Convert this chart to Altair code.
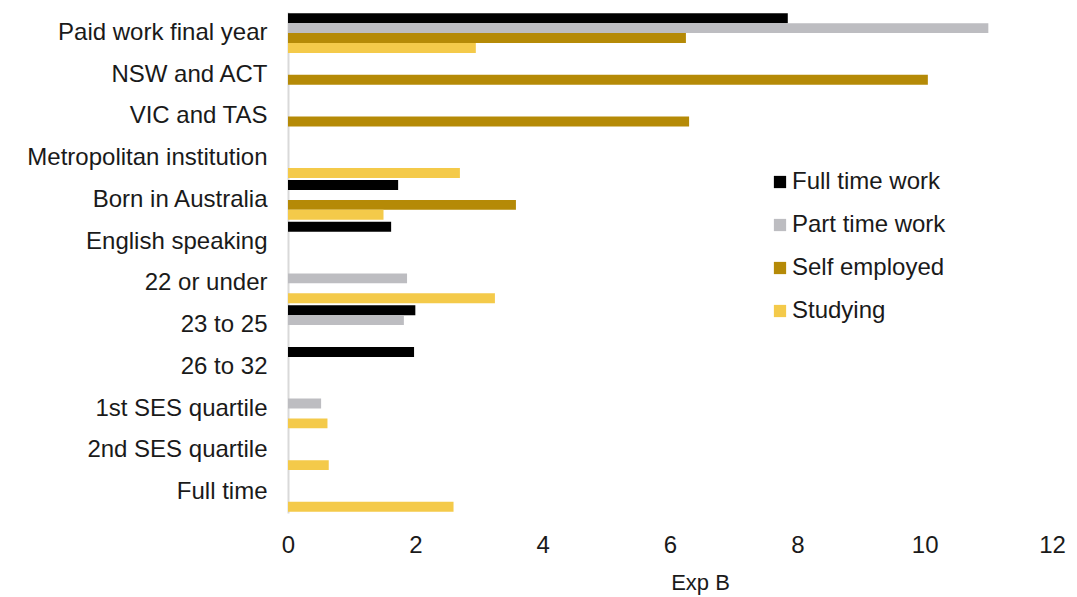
import altair as alt
import pandas as pd

categories = [
    "Paid work final year", "NSW and ACT", "VIC and TAS", "Metropolitan institution",
    "Born in Australia", "English speaking", "22 or under", "23 to 25", "26 to 32",
    "1st SES quartile", "2nd SES quartile", "Full time",
]
series = ["Full time work", "Part time work", "Self employed", "Studying"]
colors = ["#000000", "#bdbdc1", "#b58a07", "#f4ca4a"]

full_time_work = [7.85, None, None, None, 1.73, 1.62, None, 2.00, 1.98, None, None, None]
part_time_work = [11.0, None, None, None, None, None, 1.87, 1.82, None, 0.52, None, None]
self_employed = [6.25, 10.05, 6.30, None, 3.58, None, None, None, None, None, None, None]
studying = [2.95, None, None, 2.70, 1.50, None, 3.25, None, None, 0.62, 0.64, 2.60]

rows = []
for s, vals in zip(series, [full_time_work, part_time_work, self_employed, studying]):
    for c, v in zip(categories, vals):
        if v is not None:
            rows.append({"Category": c, "Series": s, "Value": v})
df = pd.DataFrame(rows)

FONT = "Liberation Sans"

chart = alt.Chart(df).mark_bar().encode(
    y=alt.Y("Category:N", sort=categories,
            scale=alt.Scale(paddingInner=0.05, paddingOuter=0.03),
            axis=alt.Axis(title=None, ticks=False, domain=True, domainColor="#d9d9d9",
                          domainWidth=2, labelFontSize=24, labelFont=FONT,
                          labelColor="#1a1a1a", labelPadding=21, labelLimit=400)),
    yOffset=alt.YOffset("Series:N", sort=series, scale=alt.Scale(domain=series, paddingInner=0, paddingOuter=0)),
    x=alt.X("Value:Q", scale=alt.Scale(domain=[0, 12], nice=False),
            axis=alt.Axis(title="Exp B", values=[0, 2, 4, 6, 8, 10, 12], grid=False, ticks=False,
                          domain=False, labelFontSize=24, labelFont=FONT, labelColor="#1a1a1a",
                          labelPadding=20, labelFlush=False, titleFontSize=22, titleFont=FONT,
                          titleFontWeight="normal", titleColor="#1a1a1a", titlePadding=15,
                          titleX=412)),
    color=alt.Color("Series:N", sort=series,
                    scale=alt.Scale(domain=series, range=colors),
                    legend=alt.Legend(title=None, orient="none", legendX=480, legendY=158,
                                      padding=0, symbolType="square", symbolSize=150,
                                      symbolStrokeWidth=0, labelFontSize=24, labelFont=FONT,
                                      labelColor="#1a1a1a", rowPadding=19, labelOffset=0,
                                      labelLimit=300)),
).properties(
    width=764, height=501,
    autosize=alt.AutoSizeParams(type="none"),
    padding={"left": 280, "top": 4, "right": 17, "bottom": 84},
).configure_view(stroke=None)

chart.save("out.html", embed_options={"renderer": "svg", "actions": False})
